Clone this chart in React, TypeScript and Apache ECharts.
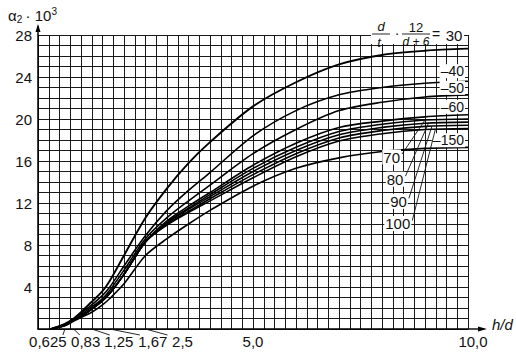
import React, { useEffect, useRef } from 'react';
import * as echarts from 'echarts';

// h/d positions of the read points
const hd = [0.3, 0.625, 0.83, 1.0, 1.25, 1.5, 1.67, 2.0, 2.5, 3.0, 3.5, 4.0, 5.0, 6.0, 7.0, 8.0, 9.0, 10.0];
// alpha2 * 10^3 for each curve parameter
const a30 = [0, 0.5, 1.0, 1.6, 2.6, 3.6, 4.6, 7.0, 10.6, 13.4, 15.8, 17.8, 21.2, 23.5, 25.2, 26.1, 26.5, 26.7];
const a40 = [0, 0.45, 0.95, 1.5, 2.3, 3.2, 4.0, 6.0, 8.9, 11.3, 13.2, 14.9, 18.4, 20.8, 22.3, 23.0, 23.4, 23.6];
const a50 = [0, 0.4, 0.9, 1.35, 2.1, 2.9, 3.7, 5.6, 8.6, 10.6, 12.2, 13.7, 16.7, 19.0, 20.8, 21.6, 22.1, 22.3];
const a60 = [0, 0.35, 0.85, 1.2, 1.9, 2.7, 3.4, 5.2, 8.3, 10.3, 11.7, 13.0, 15.6, 17.7, 19.2, 19.8, 20.2, 20.4];
const a70 = [0, 0.35, 0.85, 1.2, 1.9, 2.7, 3.4, 5.2, 8.3, 10.2, 11.5, 12.8, 15.3, 17.3, 18.8, 19.5, 19.9, 20.0];
const a80 = [0, 0.35, 0.85, 1.2, 1.9, 2.7, 3.4, 5.2, 8.3, 10.1, 11.4, 12.6, 15.0, 17.0, 18.5, 19.2, 19.6, 19.7];
const a90 = [0, 0.35, 0.85, 1.2, 1.9, 2.7, 3.4, 5.2, 8.3, 10.0, 11.2, 12.4, 14.7, 16.7, 18.2, 18.9, 19.3, 19.4];
const a100 = [0, 0.35, 0.85, 1.2, 1.9, 2.7, 3.4, 5.2, 8.3, 9.9, 11.1, 12.2, 14.4, 16.4, 17.9, 18.6, 19.0, 19.1];
const a150 = [0, 0.3, 0.75, 1.1, 1.6, 2.3, 2.9, 4.3, 7.0, 8.6, 10.0, 11.3, 13.6, 15.3, 16.3, 16.9, 17.2, 17.3];

const curveNames = ['30', '40', '50', '60', '70', '80', '90', '100', '150'];
const curves = [a30, a40, a50, a60, a70, a80, a90, a100, a150];

const xTickValues = [0.625, 0.83, 1.25, 1.67, 2.5, 5.0, 10.0];
const xTickLabels = ['0,625', '0,83', '1,25', '1,67', '2,5', '5,0', '10,0'];
const yTickLabels = ['4', '8', '12', '16', '20', '24', '28'];

const FONT = '"Liberation Sans", Arial, sans-serif';

export default function App() {
  const ref = useRef<HTMLDivElement>(null);
  useEffect(() => {
    if (!ref.current) return;
    const chart = echarts.init(ref.current, null, { renderer: 'svg' });
    const option: any = {
      animation: false,
      backgroundColor: '#fff',
      grid: { left: 38, right: 48, top: 35, bottom: 26 },
      xAxis: {
        type: 'value', min: 0, max: 10, interval: 0.25,
        axisLine: { show: true, lineStyle: { color: '#000', width: 1.5 } },
        axisTick: { show: false },
        axisLabel: { show: false },
        splitLine: { show: true, lineStyle: { color: '#1a1a1a', width: 1 } },
      },
      yAxis: {
        type: 'value', min: 0, max: 28, interval: 1,
        axisLine: { show: true, lineStyle: { color: '#000', width: 1.5 } },
        axisTick: { show: false },
        axisLabel: {
          show: true, margin: 6, fontSize: 15, color: '#111', fontFamily: FONT,
          formatter: (v: number) => (yTickLabels.indexOf(String(v)) >= 0 ? String(v) : ''),
        },
        splitLine: { show: true, lineStyle: { color: '#1a1a1a', width: 1 } },
      },
      series: curves.map((arr, i) => ({
        name: curveNames[i],
        type: 'line',
        data: hd.map((x, j) => [x, arr[j]]),
        showSymbol: false,
        smooth: 0.3,
        lineStyle: { color: '#000', width: i === 0 ? 1.9 : 1.6 },
        z: 3,
      })),
    };
    chart.setOption(option);

    const px = (x: number, y: number) => chart.convertToPixel({ gridIndex: 0 }, [x, y]) as number[];
    const g: any[] = [];
    const txt = (text: string, x: number, y: number, o: any = {}) => ({
      type: 'text', z: 20,
      style: {
        text, x, y, fill: '#111', font: `${o.italic ? 'italic ' : ''}${o.size || 15}px ${FONT}`,
        align: o.align || 'center', verticalAlign: 'middle',
        backgroundColor: o.bg, padding: o.pad,
      },
    });
    const ln = (x1: number, y1: number, x2: number, y2: number, w = 1) => ({
      type: 'line', z: 20, shape: { x1, y1, x2, y2 }, style: { stroke: '#111', lineWidth: w },
    });

    // x tick labels with leader lines
    const labelDx = [-17, 12, 27, 43, 37, 0, 5];
    const leaderDx = [15, -6, -9, -13, -15];
    xTickValues.forEach((v, i) => {
      const p = px(v, 0);
      const cx = p[0] + labelDx[i];
      g.push(txt(xTickLabels[i], cx, p[1] + 12));
      if (i < leaderDx.length) g.push(ln(p[0], p[1], cx + leaderDx[i], p[1] + 6, 0.9));
    });

    // formula box
    g.push({ type: 'rect', z: 15, shape: { x: 371, y: 16, width: 93, height: 28 }, style: { fill: '#fff' } });
    g.push(txt('d', 381, 26, { italic: true, size: 13 }));
    g.push(ln(372, 34, 390, 34, 0.9));
    g.push(txt('t', 379, 42, { italic: true, size: 13 }));
    g.push(txt('·', 397, 33, { size: 14 }));
    g.push(txt('12', 416, 27, { size: 13 }));
    g.push(ln(402, 34, 430, 34, 0.9));
    g.push(txt('d + 6', 416, 42, { italic: true, size: 12 }));
    g.push(txt('=', 436, 34, { size: 14 }));
    g.push(txt(curveNames[0], 454, 35));

    // right end labels above curves
    const endDy = [0, -10, -7, -8, 0, 0, 0, 0, -7];
    [1, 2, 3, 8].forEach((k) => {
      const arr = curves[k];
      const p = px(10, arr[arr.length - 1]);
      g.push(txt('–' + curveNames[k], p[0] - 3, p[1] + endDy[k], { align: 'right', bg: '#fff', size: 14, pad: [0, 1] }));
    });

    // labels 70..100 with leader lines to the bundle
    const i9 = hd.indexOf(9.0);
    [4, 5, 6, 7].forEach((k, j) => {
      const end = px(9.0 + 0.08 * j, curves[k][i9]);
      const tx = end[0] - 24;
      const ty = end[1] + 37 + j * 19;
      g.push(txt(curveNames[k], tx, ty, { align: 'right', bg: '#fff', pad: [0, 1] }));
      g.push(ln(tx + 1, ty - 3, end[0], end[1], 0.9));
    });

    // axis arrows
    const o = px(0, 0);
    const top = px(0, 28);
    const right = px(10, 0);
    g.push(ln(o[0], top[1], o[0], top[1] - 9, 1.5));
    g.push({ type: 'polygon', z: 20, shape: { points: [[o[0], top[1] - 11], [o[0] - 2.5, top[1] - 3], [o[0] + 2.5, top[1] - 3]] }, style: { fill: '#000' } });
    g.push(ln(right[0], o[1], right[0] + 16, o[1], 1.5));
    g.push({ type: 'polygon', z: 20, shape: { points: [[right[0] + 19, o[1]], [right[0] + 10, o[1] - 2.5], [right[0] + 10, o[1] + 2.5]] }, style: { fill: '#000' } });

    // axis titles
    g.push({
      type: 'text', z: 20,
      style: {
        text: '{a|α}{s|2} {a|· 10}{p|3}', x: 8, y: 15, verticalAlign: 'middle', fill: '#111',
        rich: {
          a: { font: `15px ${FONT}`, fill: '#111' },
          s: { font: `10px ${FONT}`, fill: '#111', padding: [8, 0, 0, 0] },
          p: { font: `10px ${FONT}`, fill: '#111', padding: [0, 0, 8, 0] },
        },
      },
    });
    g.push(txt('h/d', 492, 324, { align: 'left', italic: true }));

    chart.setOption({ graphic: g });
    return () => chart.dispose();
  }, []);
  return <div ref={ref} style={{ position: 'fixed', left: 0, top: 0, width: 516, height: 355 }} />;
}
